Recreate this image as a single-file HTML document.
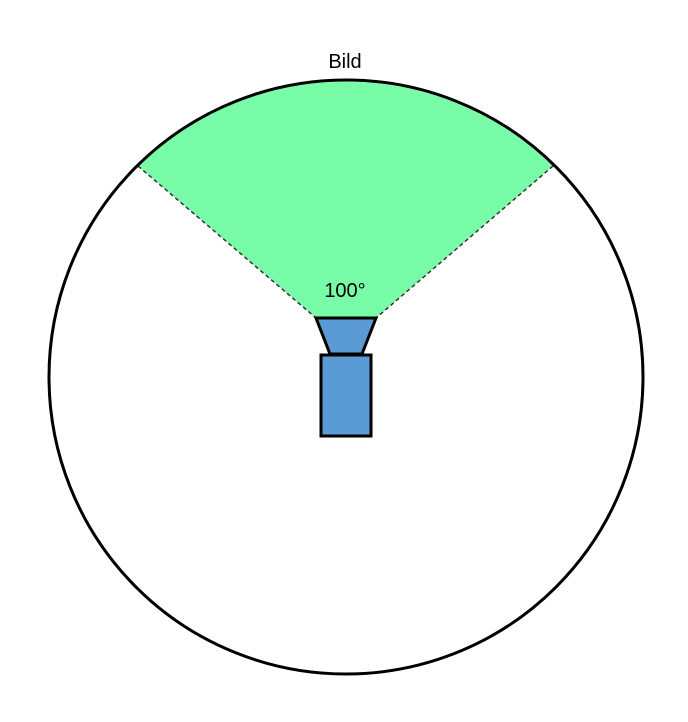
<!DOCTYPE html>
<html><head><meta charset="utf-8"><style>html,body{margin:0;padding:0;background:#fff}svg{display:block}</style></head>
<body>
<svg width="688" height="722" viewBox="0 0 688 722">
  <circle cx="346" cy="377" r="297" fill="#fff" stroke="none"/>
  <path d="M138,166 A297,297 0 0 1 553,166 L376,318 L316,318 Z" fill="#78fca8" stroke="none"/>
  <line x1="138" y1="166" x2="316" y2="318" stroke="#333" stroke-width="1.5" stroke-dasharray="4,3"/>
  <line x1="553" y1="166" x2="376" y2="318" stroke="#333" stroke-width="1.5" stroke-dasharray="4,3"/>
  <circle cx="346" cy="377" r="297" fill="none" stroke="#000" stroke-width="3"/>
  <polygon points="316,318 376,318 362,354 330,354" fill="#5b9bd5" stroke="#000" stroke-width="3" stroke-linejoin="miter"/>
  <rect x="321" y="355" width="50" height="81" fill="#5b9bd5" stroke="#000" stroke-width="3"/>
  <text x="345" y="297" text-anchor="middle" font-family="'Liberation Sans','DejaVu Sans',sans-serif" font-size="20" fill="#000">100°</text>
  <text x="345" y="68" text-anchor="middle" font-family="'Liberation Sans','DejaVu Sans',sans-serif" font-size="20" fill="#000">Bild</text>
</svg>
</body></html>
